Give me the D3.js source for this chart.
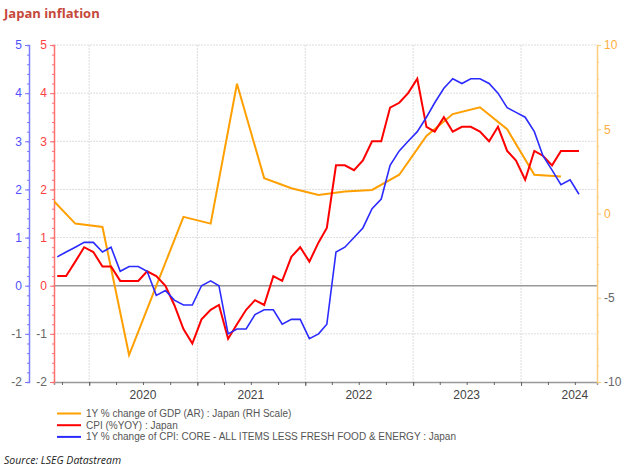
<!DOCTYPE html>
<html>
<head>
<meta charset="utf-8">
<script src="https://cdn.jsdelivr.net/npm/d3@7"></script>
<style>
  body { margin: 0; background: #fff; }
  svg { display: block; font-family: "Liberation Sans", Arial, sans-serif; }
</style>
</head>
<body>
<script>
// CPI (%YOY) : Japan, monthly Sep 2019 - Jul 2024
var cpiStart = [2019, 8];
var cpi = [0.2, 0.2, 0.5, 0.8,
    0.7, 0.4, 0.4, 0.1, 0.1, 0.1, 0.3, 0.2, 0.0, -0.4, -0.9, -1.2,
    -0.7, -0.5, -0.4, -1.1, -0.8, -0.5, -0.3, -0.4, 0.2, 0.1, 0.6, 0.8,
    0.5, 0.9, 1.2, 2.5, 2.5, 2.4, 2.6, 3.0, 3.0, 3.7, 3.8, 4.0,
    4.3, 3.3, 3.2, 3.5, 3.2, 3.3, 3.3, 3.2, 3.0, 3.3, 2.8, 2.6,
    2.2, 2.8, 2.7, 2.5, 2.8, 2.8, 2.8];
// core CPI less fresh food & energy, monthly Sep 2019 - Jul 2024
var core = [0.6, 0.7, 0.8, 0.9,
    0.9, 0.7, 0.8, 0.3, 0.4, 0.4, 0.3, -0.2, -0.1, -0.3, -0.4, -0.4,
    0.0, 0.1, 0.0, -1.0, -0.9, -0.9, -0.6, -0.5, -0.5, -0.8, -0.7, -0.7,
    -1.1, -1.0, -0.8, 0.7, 0.8, 1.0, 1.2, 1.6, 1.8, 2.5, 2.8, 3.0,
    3.2, 3.5, 3.8, 4.1, 4.3, 4.2, 4.3, 4.3, 4.2, 4.0, 3.7, 3.6,
    3.5, 3.2, 2.7, 2.4, 2.1, 2.2, 1.9];
// GDP 1Y % change, quarterly Q3 2019 - Q2 2024 (RH scale)
var gdpStart = [2019, 7];
var gdp = [1.1, -0.6, -0.8, -8.4, -4.3, -0.2, -0.6, 7.7, 2.1, 1.5,
    1.1, 1.3, 1.4, 2.3, 4.6, 5.9, 6.3, 5.0, 2.3, 2.2];

var years = [2020, 2021, 2022, 2023, 2024];
var leftTicks = [-2, -1, 0, 1, 2, 3, 4, 5];
var rightTicks = [-10, -5, 0, 5, 10];
var legendLabels = [
    "1Y % change of GDP (AR) : Japan (RH Scale)",
    "CPI (%YOY) : Japan",
    "1Y % change of CPI: CORE - ALL ITEMS LESS FRESH FOOD & ENERGY : Japan"
];
var colors = ["#ffa000", "#ff0000", "#2b2bff"];

var width = 630, height = 467;
var x0 = 54, x1 = 597, yTop = 45, yBot = 382;

var svg = d3.select("body").append("svg")
    .attr("width", width)
    .attr("height", height);

var x = d3.scaleTime()
    .domain([new Date(2019, 8, 4), new Date(2024, 8, 14)])
    .range([x0, x1]);
var yL = d3.scaleLinear().domain([-2, 5]).range([yBot, yTop]);
var yR = d3.scaleLinear().domain([-10, 10]).range([yBot, yTop]);

function monthly(start, vals, step) {
    return vals.map(function(v, i) {
        return { date: new Date(start[0], start[1] + i * step, 15), v: v };
    });
}
var cpiData = monthly(cpiStart, cpi, 1);
var coreData = monthly(cpiStart, core, 1);
var gdpData = monthly(gdpStart, gdp, 3);

// title + source
svg.append("text").attr("x", 4).attr("y", 18)
    .attr("font-family", "'Open Sans', sans-serif")
    .attr("font-weight", "bold").attr("font-size", 13)
    .attr("fill", "#c5483a").text("Japan inflation");
svg.append("text").attr("x", 4).attr("y", 464)
    .attr("font-family", "'Open Sans', sans-serif")
    .attr("font-style", "italic").attr("font-size", 10.5)
    .attr("fill", "#222").text("Source:  LSEG Datastream");

// grid
svg.append("g").selectAll("line").data(leftTicks.filter(function(d) { return d != 0 && d != -2; }))
    .enter().append("line")
    .attr("x1", x0).attr("x2", x1)
    .attr("y1", function(d) { return yL(d); }).attr("y2", function(d) { return yL(d); })
    .attr("stroke", "#ddd").attr("stroke-dasharray", "2,1");
svg.append("g").selectAll("line").data(years)
    .enter().append("line")
    .attr("x1", function(d) { return x(new Date(d, 0, 1)); })
    .attr("x2", function(d) { return x(new Date(d, 0, 1)); })
    .attr("y1", yTop).attr("y2", yBot)
    .attr("stroke", "#ddd").attr("stroke-dasharray", "2,1");
svg.append("line").attr("x1", x0).attr("x2", x1)
    .attr("y1", yL(0)).attr("y2", yL(0))
    .attr("stroke", "#999").attr("stroke-width", 1.5);

// x axis
var qTicks = d3.timeMonth.every(3).range(new Date(2019, 9, 1), new Date(2024, 8, 1));
svg.append("g").attr("transform", "translate(0," + yBot + ")")
    .call(d3.axisBottom(x).tickValues(qTicks).tickSize(3).tickFormat(""))
    .call(function(g) {
        g.select(".domain").attr("stroke", "#999").attr("stroke-width", 1.5);
        g.selectAll(".tick line").attr("stroke", "#666");
    });
svg.append("g").attr("transform", "translate(0," + yBot + ")")
    .call(d3.axisBottom(x).tickValues(years.map(function(d) { return new Date(d, 0, 1); }))
        .tickSize(4).tickFormat(""))
    .call(function(g) {
        g.select(".domain").remove();
        g.selectAll(".tick line").attr("stroke", "#666");
    });
svg.append("g").selectAll("text").data(years).enter().append("text")
    .attr("x", function(d) { return x(new Date(d, 6, 1)); })
    .attr("y", 399).attr("text-anchor", "middle")
    .attr("font-size", 12).attr("fill", "#444")
    .text(function(d) { return d; });

// y axes
function yAxis(scale, pos, color, labelColor, minorStep, orient) {
    var dom = scale.domain();
    var minor = d3.range(dom[0], dom[1] + minorStep / 2, minorStep);
    var ax = orient == "left" ? d3.axisLeft : d3.axisRight;
    svg.append("g").attr("transform", "translate(" + pos + ",0)")
        .call(ax(scale).tickValues(minor).tickSize(2).tickFormat(""))
        .call(function(g) {
            g.select(".domain").attr("stroke", color).attr("stroke-width", 1.5);
            g.selectAll(".tick line").attr("stroke", color);
        });
    var major = orient == "left" ? leftTicks : rightTicks;
    svg.append("g").attr("transform", "translate(" + pos + ",0)")
        .call(ax(scale).tickValues(major).tickSize(4).tickPadding(3)
            .tickFormat(function(d) { return String(d); }))
        .call(function(g) {
            g.select(".domain").remove();
            g.selectAll(".tick line").attr("stroke", color);
            g.selectAll(".tick text")
                .attr("font-size", 12)
                .attr("font-family", "'Liberation Sans', Arial, sans-serif")
                .attr("fill", function(d) { return d < 0 ? "#666" : labelColor; });
        });
}
yAxis(yL, 29, "#7b7bff", "#5050ff", 0.2, "left");
yAxis(yL, x0, "#ff7070", "#ff4040", 0.2, "left");
yAxis(yR, x1, "#ffcc80", "#ffae40", 1, "right");

// lines
svg.append("clipPath").attr("id", "plot").append("rect")
    .attr("x", x0).attr("y", yTop - 5).attr("width", x1 - x0).attr("height", yBot - yTop + 5);

var lineL = d3.line().x(function(d) { return x(d.date); }).y(function(d) { return yL(d.v); });
var lineR = d3.line().x(function(d) { return x(d.date); }).y(function(d) { return yR(d.v); });

var plot = svg.append("g").attr("clip-path", "url(#plot)");
plot.append("path").datum(gdpData).attr("d", lineR)
    .attr("fill", "none").attr("stroke", colors[0]).attr("stroke-width", 2);
plot.append("path").datum(cpiData).attr("d", lineL)
    .attr("fill", "none").attr("stroke", colors[1]).attr("stroke-width", 2);
plot.append("path").datum(coreData).attr("d", lineL)
    .attr("fill", "none").attr("stroke", colors[2]).attr("stroke-width", 1.6);

// legend
var leg = svg.append("g").selectAll("g").data(legendLabels).enter().append("g")
    .attr("transform", function(d, i) { return "translate(57," + (413.5 + i * 11.7) + ")"; });
leg.append("line").attr("x1", 0).attr("x2", 24)
    .attr("stroke", function(d, i) { return colors[i]; }).attr("stroke-width", 2);
leg.append("text").attr("x", 29).attr("y", 3.5)
    .attr("font-size", 10).attr("fill", "#555")
    .text(function(d) { return d; });
</script>
</body>
</html>
